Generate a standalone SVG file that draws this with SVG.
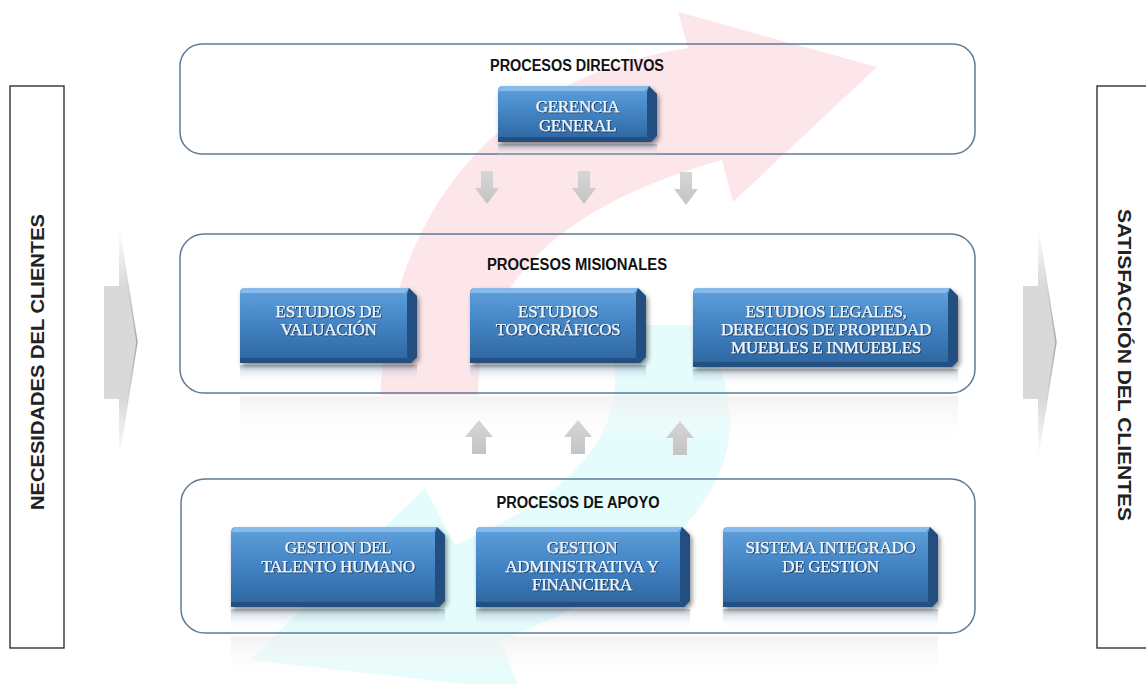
<svg xmlns="http://www.w3.org/2000/svg" width="1146" height="684" viewBox="0 0 1146 684">
<defs>
<style>
.cont{fill:none;stroke:#5f7a96;stroke-width:1.5}
.title{font-family:"Liberation Sans",Arial,sans-serif;font-weight:bold;font-size:16px;fill:#111;text-anchor:middle}
.side{font-family:"Liberation Sans",Arial,sans-serif;font-weight:bold;font-size:18px;fill:#222;text-anchor:middle}
.sbox{fill:#fff;stroke:#222;stroke-width:1.3}
.bx{fill:url(#boxGrad);filter:url(#sh)}
.bxt{fill:#8dc0ee;opacity:.85}
.bxr{fill:#234f80}
.bxb{fill:#1f4a78;opacity:.8}
.refl{fill:url(#reflGrad)}
.bt{font-family:"Liberation Serif","Times New Roman",serif;font-size:17px;fill:#eef5fc;stroke:#eef5fc;stroke-width:0.25;text-anchor:middle;filter:url(#tsh);letter-spacing:-0.3px}
.arr{fill:url(#arrGrad)}
</style>
<linearGradient id="boxGrad" x1="0" y1="0" x2="0" y2="1">
<stop offset="0" stop-color="#5fa1db"/>
<stop offset="0.45" stop-color="#4485c6"/>
<stop offset="1" stop-color="#2c649e"/>
</linearGradient>
<linearGradient id="reflGrad" x1="0" y1="0" x2="0" y2="1">
<stop offset="0" stop-color="#7d97b3" stop-opacity="0.5"/>
<stop offset="1" stop-color="#ffffff" stop-opacity="0"/>
</linearGradient>
<linearGradient id="arrGrad" x1="0" y1="0" x2="0" y2="1">
<stop offset="0" stop-color="#d6d6d6"/>
<stop offset="1" stop-color="#c4c4c4"/>
</linearGradient>
<linearGradient id="sideGrad" x1="0" y1="0" x2="0" y2="1">
<stop offset="0" stop-color="#ffffff"/>
<stop offset="0.25" stop-color="#d9d9d9"/>
<stop offset="0.75" stop-color="#d9d9d9"/>
<stop offset="1" stop-color="#ffffff"/>
</linearGradient>
<linearGradient id="sideEdge" x1="0" y1="0" x2="0" y2="1">
<stop offset="0" stop-color="#ffffff"/>
<stop offset="0.5" stop-color="#a9a9a9"/>
<stop offset="1" stop-color="#ffffff"/>
</linearGradient>
<linearGradient id="panelGrad" x1="0" y1="0" x2="0" y2="1">
<stop offset="0" stop-color="#efefef" stop-opacity="0.8"/>
<stop offset="1" stop-color="#ffffff" stop-opacity="0"/>
</linearGradient>
<filter id="sh" x="-10%" y="-20%" width="125%" height="150%">
<feDropShadow dx="2" dy="3" stdDeviation="2.5" flood-color="#000" flood-opacity="0.45"/>
</filter>
<filter id="tsh" x="-5%" y="-20%" width="110%" height="150%">
<feDropShadow dx="0.8" dy="0.8" stdDeviation="0.6" flood-color="#0b2545" flood-opacity="0.9"/>
</filter>
</defs>

<rect width="1146" height="684" fill="#ffffff"/>

<g id="background">
<path d="M688,48 C540,70 395,170 380,395 L478,395 C480,270 580,200 722,160 L733,202 L877,67 L678,12 Z" fill="#fde6e9"/>
<path d="M605,325 C640,420 585,490 455,545 L425,488 L250,660 L520,690 L500,640 C650,585 800,470 695,325 Z" fill="#e4fcfc"/>
<rect x="240" y="396" width="718" height="50" fill="url(#panelGrad)"/>
<rect x="231" y="636" width="707" height="48" fill="url(#panelGrad)"/>
</g>

<g id="side-left">
<rect class="sbox" x="10" y="86" width="54" height="562"/>
<text class="side" transform="translate(44,362) rotate(-90)" textLength="296" lengthAdjust="spacingAndGlyphs">NECESIDADES DEL CLIENTES</text>
</g>
<g id="side-right">
<rect class="sbox" x="1097" y="86" width="60" height="562"/>
<text class="side" transform="translate(1118,365) rotate(90)" textLength="312" lengthAdjust="spacingAndGlyphs">SATISFACCIÓN DEL CLIENTES</text>
</g>

<g id="c-directivos">
<rect class="cont" x="180" y="44" width="795" height="110" rx="22"/>
<text class="title" x="577" y="71" textLength="174" lengthAdjust="spacingAndGlyphs">PROCESOS DIRECTIVOS</text>
</g>
<g id="c-misionales">
<rect class="cont" x="180" y="234" width="795" height="159" rx="24"/>
<text class="title" x="577" y="270" textLength="180" lengthAdjust="spacingAndGlyphs">PROCESOS MISIONALES</text>
</g>
<g id="c-apoyo">
<rect class="cont" x="181" y="479" width="794" height="154" rx="24"/>
<text class="title" x="578" y="508" textLength="163" lengthAdjust="spacingAndGlyphs">PROCESOS DE APOYO</text>
</g>

<g id="connectors">
<polygon points="104,286 119,286 119,228 137,342 119,456 119,399 104,399" fill="url(#sideGrad)"/>
<polyline points="119,228 137,342 119,456" fill="none" stroke="url(#sideEdge)" stroke-width="1.5"/>
<polygon points="1023,286 1038,286 1038,228 1056,342 1038,456 1038,399 1023,399" fill="url(#sideGrad)"/>
<polyline points="1038,228 1056,342 1038,456" fill="none" stroke="url(#sideEdge)" stroke-width="1.5"/>
<polygon class="arr" points="481,171 493,171 493,188 499,188 487,204 475,188 481,188"/>
<polygon class="arr" points="578,171 590,171 590,188 596,188 584,204 572,188 578,188"/>
<polygon class="arr" points="680,172 692,172 692,189 698,189 686,205 674,189 680,189"/>
<polygon class="arr" points="479,420 493,437 486,437 486,454 472,454 472,437 465,437"/>
<polygon class="arr" points="578,420 592,437 585,437 585,454 571,454 571,437 564,437"/>
<polygon class="arr" points="680,421 694,438 687,438 687,455 673,455 673,438 666,438"/>
</g>

<g id="n-gerencia" transform="translate(498,86)">
<rect class="refl" x="0" y="58" width="159" height="14"/>
<path class="bx" d="M5,0 H151 L159,8 V50 L153,56 H0 V5 Q0,0 5,0 Z"/>
<polygon class="bxt" points="3,0 151,0 147,5 0,5"/>
<polygon class="bxr" points="151,0 159,8 159,50 153,56 149,50 149,6"/>
<polygon class="bxb" points="0,51 149,51 153,56 0,56"/>
<text class="bt" x="79.5" y="26">GERENCIA</text>
<text class="bt" x="79.5" y="45">GENERAL</text>
</g>

<g id="n-valuacion" transform="translate(240,288)">
<rect class="refl" x="0" y="77" width="177" height="18"/>
<path class="bx" d="M5,0 H169 L177,8 V69 L171,75 H0 V5 Q0,0 5,0 Z"/>
<polygon class="bxt" points="3,0 169,0 165,5 0,5"/>
<polygon class="bxr" points="169,0 177,8 177,69 171,75 167,69 167,6"/>
<polygon class="bxb" points="0,70 167,70 171,75 0,75"/>
<text class="bt" x="88.5" y="29">ESTUDIOS DE</text>
<text class="bt" x="88.5" y="47">VALUACIÓN</text>
</g>

<g id="n-topograficos" transform="translate(470,288)">
<rect class="refl" x="0" y="77" width="176" height="18"/>
<path class="bx" d="M5,0 H168 L176,8 V69 L170,75 H0 V5 Q0,0 5,0 Z"/>
<polygon class="bxt" points="3,0 168,0 164,5 0,5"/>
<polygon class="bxr" points="168,0 176,8 176,69 170,75 166,69 166,6"/>
<polygon class="bxb" points="0,70 166,70 170,75 0,75"/>
<text class="bt" x="88" y="29">ESTUDIOS</text>
<text class="bt" x="88" y="47">TOPOGRÁFICOS</text>
</g>

<g id="n-legales" transform="translate(693,288)">
<rect class="refl" x="0" y="81" width="265" height="18"/>
<path class="bx" d="M5,0 H257 L265,8 V73 L259,79 H0 V5 Q0,0 5,0 Z"/>
<polygon class="bxt" points="3,0 257,0 253,5 0,5"/>
<polygon class="bxr" points="257,0 265,8 265,73 259,79 255,73 255,6"/>
<polygon class="bxb" points="0,74 255,74 259,79 0,79"/>
<text class="bt" x="133" y="29">ESTUDIOS LEGALES,</text>
<text class="bt" x="133" y="47">DERECHOS DE PROPIEDAD</text>
<text class="bt" x="133" y="65">MUEBLES E INMUEBLES</text>
</g>

<g id="n-talento" transform="translate(231,527)">
<rect class="refl" x="0" y="82" width="214" height="20"/>
<path class="bx" d="M5,0 H206 L214,8 V74 L208,80 H0 V5 Q0,0 5,0 Z"/>
<polygon class="bxt" points="3,0 206,0 202,5 0,5"/>
<polygon class="bxr" points="206,0 214,8 214,74 208,80 204,74 204,6"/>
<polygon class="bxb" points="0,75 204,75 208,80 0,80"/>
<text class="bt" x="107" y="26">GESTION DEL</text>
<text class="bt" x="107" y="45">TALENTO HUMANO</text>
</g>

<g id="n-administrativa" transform="translate(476,527)">
<rect class="refl" x="0" y="82" width="214" height="20"/>
<path class="bx" d="M5,0 H206 L214,8 V74 L208,80 H0 V5 Q0,0 5,0 Z"/>
<polygon class="bxt" points="3,0 206,0 202,5 0,5"/>
<polygon class="bxr" points="206,0 214,8 214,74 208,80 204,74 204,6"/>
<polygon class="bxb" points="0,75 204,75 208,80 0,80"/>
<text class="bt" x="106" y="26">GESTION</text>
<text class="bt" x="106" y="45">ADMINISTRATIVA Y</text>
<text class="bt" x="106" y="63">FINANCIERA</text>
</g>

<g id="n-sistema" transform="translate(723,527)">
<rect class="refl" x="0" y="82" width="215" height="20"/>
<path class="bx" d="M5,0 H207 L215,8 V74 L209,80 H0 V5 Q0,0 5,0 Z"/>
<polygon class="bxt" points="3,0 207,0 203,5 0,5"/>
<polygon class="bxr" points="207,0 215,8 215,74 209,80 205,74 205,6"/>
<polygon class="bxb" points="0,75 205,75 209,80 0,80"/>
<text class="bt" x="107.5" y="26">SISTEMA INTEGRADO</text>
<text class="bt" x="107.5" y="45">DE GESTION</text>
</g>
</svg>
